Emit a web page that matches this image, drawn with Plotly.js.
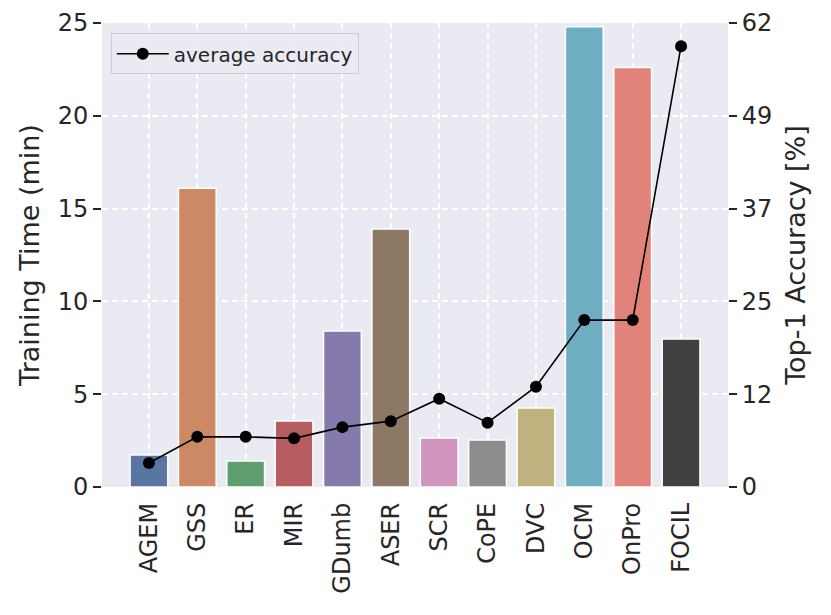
<!DOCTYPE html>
<html>
<head>
<meta charset="utf-8">
<script src="https://cdn.plot.ly/plotly-3.0.1.min.js"></script>
<style>html,body{margin:0;padding:0;background:#fff;}#chart{width:831px;height:615px;}</style>
</head>
<body>
<div id="chart"></div>
<script>
const methods = ["AGEM","GSS","ER","MIR","GDumb","ASER","SCR","CoPE","DVC","OCM","OnPro","FOCIL"];
const trainingTime = [1.72, 16.1, 1.4, 3.56, 8.4, 13.9, 2.64, 2.53, 4.26, 24.8, 22.6, 7.97];
const accuracy = [3.2, 6.7, 6.7, 6.5, 8.0, 8.8, 11.8, 8.6, 13.4, 22.3, 22.3, 58.9];
const barColors = ["#5975A4","#CC8963","#5F9E6E","#B55D60","#857AAB","#8D7866","#D095BF","#8C8C8C","#C1B37F","#6FADC2","#E1837A","#404040"];
const rightTickVals = [0, 12.4, 24.8, 37.2, 49.6, 62];
const rightTickText = ["0","12","25","37","49","62"];

const font = {family: "DejaVu Sans, sans-serif", color: "#262626"};

const bars = {
  type: "bar", x: methods, y: trainingTime, width: 0.78,
  marker: {color: barColors, line: {color: "#ffffff", width: 1.5}},
  showlegend: false, hoverinfo: "x+y"
};
const line = {
  type: "scatter", mode: "lines+markers", x: methods, y: accuracy, yaxis: "y2",
  name: "average accuracy",
  line: {color: "#000000", width: 1.6},
  marker: {color: "#000000", size: 12}
};

const layout = {
  width: 831, height: 615,
  margin: {l: 102, r: 103, t: 23, b: 128},
  paper_bgcolor: "#ffffff", plot_bgcolor: "#EAEAF2",
  font: Object.assign({size: 24}, font),
  xaxis: {
    type: "category", range: [-0.97, 11.97], tickangle: -90,
    showgrid: true, gridcolor: "#ffffff", gridwidth: 1.5, griddash: "6px,4px",
    ticks: "", showline: false, zeroline: false,
    tickfont: Object.assign({size: 24}, font), ticklabelstandoff: 10
  },
  yaxis: {
    range: [0, 25], dtick: 5, tick0: 0,
    showgrid: true, gridcolor: "#ffffff", gridwidth: 1.5, griddash: "6px,4px",
    zeroline: false, showline: false,
    ticks: "outside", ticklen: 8, tickwidth: 1.5, tickcolor: "#262626",
    tickfont: Object.assign({size: 24}, font),
    title: {text: "Training Time (min)", font: Object.assign({size: 27}, font), standoff: 10}
  },
  yaxis2: {
    overlaying: "y", side: "right", range: [0, 62],
    tickmode: "array", tickvals: rightTickVals, ticktext: rightTickText,
    showgrid: false, zeroline: false, showline: false,
    ticks: "outside", ticklen: 8, tickwidth: 1.5, tickcolor: "#262626",
    tickfont: Object.assign({size: 24}, font),
    title: {text: "Top-1 Accuracy [%]", font: Object.assign({size: 27}, font), standoff: 14}
  },
  legend: {
    x: 0.014, y: 0.978, xanchor: "left", yanchor: "top",
    bgcolor: "rgba(234,234,242,0.85)", bordercolor: "#CCCCCC", borderwidth: 1,
    itemwidth: 52,
    font: Object.assign({size: 20}, font)
  },
  showlegend: true
};

Plotly.newPlot("chart", [bars, line], layout, {displayModeBar: false});
</script>
</body>
</html>
